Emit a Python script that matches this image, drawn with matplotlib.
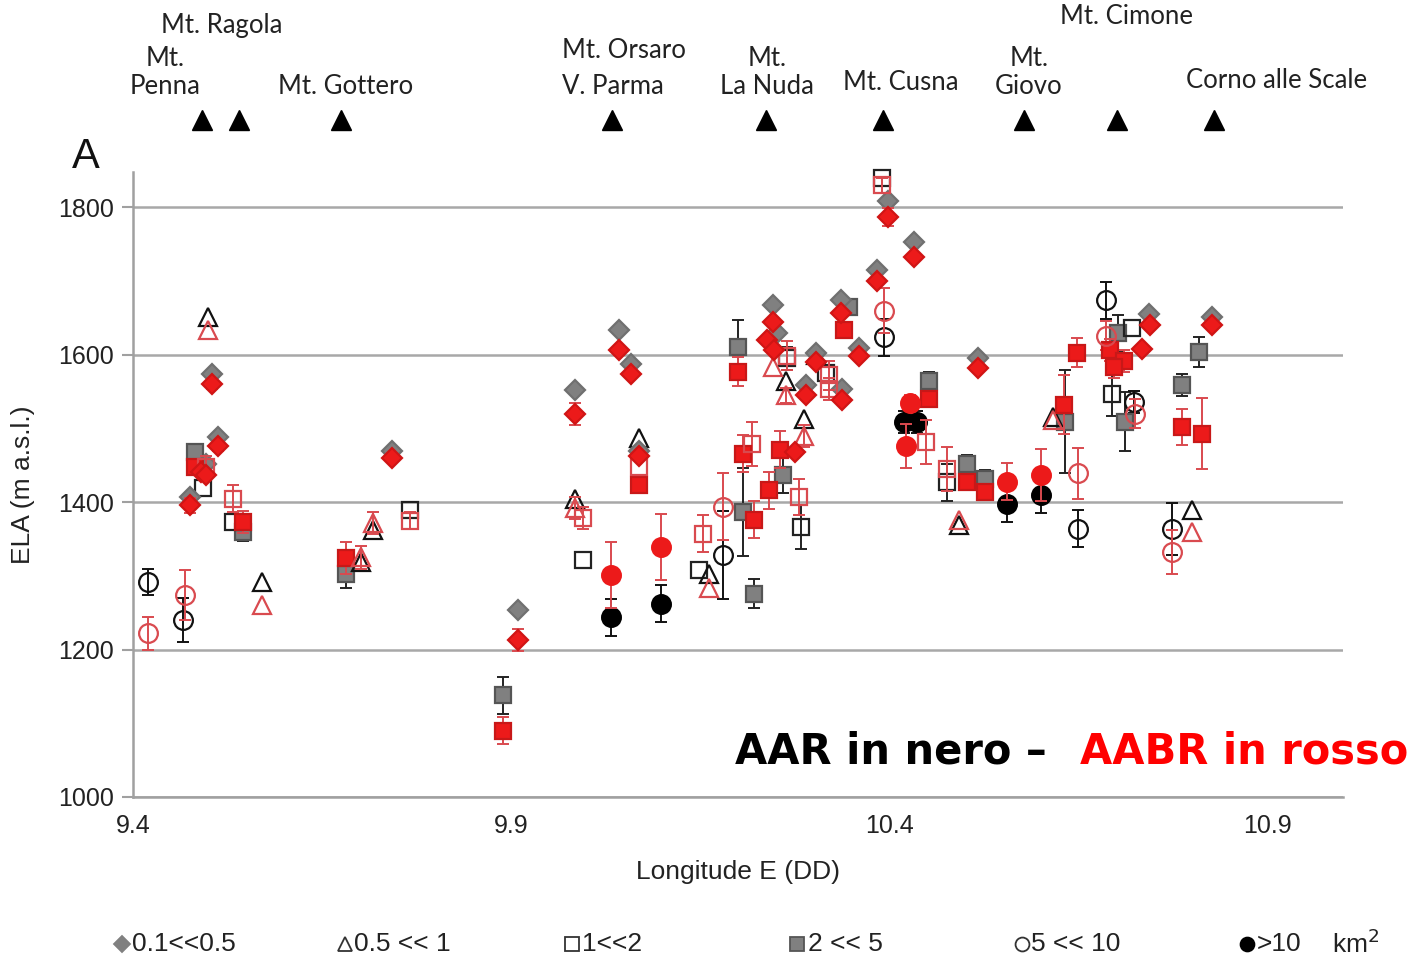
import matplotlib
matplotlib.use("Agg")
import matplotlib.pyplot as plt
import numpy as np
from matplotlib.lines import Line2D
from matplotlib.transforms import blended_transform_factory

W, H = 1414, 959

# ---------------- data (longitude E, ELA m a.s.l., error) ----------------
# 0.1 << 0.5 km2 (diamond)
aar_d_lon = [9.475, 9.497, 9.504, 9.513, 9.742, 9.909, 9.984, 10.043, 10.058, 10.069, 10.246, 10.252,
             10.290, 10.303, 10.336, 10.338, 10.360, 10.384, 10.398, 10.433, 10.518, 10.743, 10.827]
aar_d_ela = [1407, 1452, 1574, 1488, 1470, 1254, 1552, 1633, 1588, 1470, 1667, 1629,
             1559, 1602, 1674, 1554, 1609, 1715, 1809, 1753, 1595, 1656, 1651]
aar_d_err = [0] * 23

aabr_d_lon = [9.475, 9.490, 9.497, 9.504, 9.513, 9.742, 9.909, 9.984, 10.043, 10.058, 10.069, 10.246,
              10.239, 10.248, 10.276, 10.290, 10.303, 10.336, 10.338, 10.360, 10.384, 10.398, 10.433,
              10.518, 10.734, 10.745, 10.827]
aabr_d_ela = [1396, 1441, 1437, 1560, 1476, 1460, 1213, 1520, 1606, 1574, 1462, 1644,
              1620, 1606, 1468, 1545, 1590, 1657, 1538, 1599, 1700, 1787, 1733,
              1582, 1608, 1640, 1641]
aabr_d_err = [10, 0, 0, 6, 6, 6, 15, 15, 6, 6, 0, 0,
              0, 0, 0, 0, 0, 0, 0, 0, 0, 12, 0,
              0, 0, 0, 0]

# 0.5 << 1 km2 (open triangle)
aar_t_lon = [9.499, 9.570, 9.702, 9.717, 9.984, 10.069, 10.162, 10.263, 10.287, 10.303, 10.492, 10.617, 10.800]
aar_t_ela = [1651, 1292, 1319, 1362, 1405, 1487, 1303, 1565, 1513, 1600, 1369, 1516, 1389]
aar_t_err = [0] * 13

aabr_t_lon = [9.499, 9.570, 9.702, 9.717, 9.984, 10.162, 10.246, 10.263, 10.287, 10.492, 10.617, 10.800]
aabr_t_ela = [1633, 1260, 1325, 1372, 1392, 1283, 1583, 1545, 1490, 1376, 1512, 1360]
aabr_t_err = [0, 0, 15, 15, 15, 0, 0, 10, 15, 0, 0, 0]

# 1 << 2 km2 (open square)
aar_s_lon = [9.493, 9.532, 9.766, 9.995, 10.149, 10.265, 10.283, 10.316, 10.391, 10.477, 10.694, 10.721]
aar_s_ela = [1419, 1373, 1389, 1321, 1308, 1595, 1366, 1575, 1840, 1427, 1547, 1637]
aar_s_err = [0, 0, 0, 0, 0, 15, 30, 0, 0, 25, 30, 0]

aabr_s_lon = [9.497, 9.532, 9.766, 9.995, 10.069, 10.154, 10.219, 10.265, 10.281, 10.320, 10.320,
              10.391, 10.448, 10.477]
aabr_s_ela = [1448, 1405, 1375, 1378, 1448, 1357, 1479, 1599, 1407, 1572, 1554, 1830, 1482, 1445]
aabr_s_err = [15, 18, 12, 15, 0, 25, 30, 20, 25, 20, 15, 10, 30, 30]

# 2 << 5 km2 (filled square)
aar_q_lon = [9.482, 9.546, 9.682, 9.889, 10.200, 10.206, 10.221, 10.259, 10.347, 10.452, 10.503,
             10.527, 10.633, 10.703, 10.712, 10.787, 10.809]
aar_q_ela = [1468, 1360, 1303, 1138, 1611, 1387, 1276, 1437, 1665, 1565, 1452, 1432, 1509,
             1629, 1509, 1559, 1604]
aar_q_err = [0, 12, 20, 25, 36, 60, 20, 25, 0, 12, 12, 12, 70, 25, 40, 15, 20]

aabr_q_lon = [9.482, 9.546, 9.682, 9.889, 10.069, 10.200, 10.206, 10.221, 10.241, 10.256, 10.340,
              10.452, 10.503, 10.527, 10.631, 10.648, 10.692, 10.710, 10.697, 10.787, 10.814]
aabr_q_ela = [1448, 1373, 1324, 1090, 1423, 1577, 1466, 1376, 1416, 1471, 1633, 1540, 1428,
              1414, 1532, 1603, 1606, 1592, 1583, 1502, 1493]
aabr_q_err = [10, 15, 22, 18, 10, 20, 25, 25, 25, 25, 10, 10, 10, 10, 40, 20, 15, 15, 15, 25, 48]

# 5 << 10 km2 (open circle)
aar_o_lon = [9.420, 9.466, 10.180, 10.393, 10.650, 10.686, 10.723, 10.774]
aar_o_ela = [1292, 1240, 1328, 1624, 1364, 1674, 1536, 1364]
aar_o_err = [18, 30, 60, 25, 25, 25, 15, 35]

aabr_o_lon = [9.420, 9.469, 10.180, 10.393, 10.650, 10.686, 10.725, 10.774]
aabr_o_ela = [1222, 1274, 1394, 1660, 1439, 1626, 1520, 1332]
aabr_o_err = [22, 34, 45, 30, 35, 20, 20, 30]

# > 10 km2 (filled circle)
aar_c_lon = [10.032, 10.098, 10.419, 10.437, 10.556, 10.600]
aar_c_ela = [1244, 1262, 1509, 1509, 1398, 1410]
aar_c_err = [25, 25, 15, 15, 25, 25]

aabr_c_lon = [10.032, 10.098, 10.422, 10.428, 10.556, 10.600]
aabr_c_ela = [1301, 1339, 1476, 1535, 1428, 1437]
aabr_c_err = [45, 45, 30, 10, 25, 35]

# peaks
peak_lon = [9.4915, 9.5404, 9.6756, 10.0329, 10.2376, 10.3921, 10.5778, 10.7011, 10.8292]

x_ticks = [9.4, 9.9, 10.4, 10.9]
x_ticklabels = ["9.4", "9.9", "10.4", "10.9"]
y_ticks = [1000, 1200, 1400, 1600, 1800]

legend_labels = ["0.1<<0.5", "0.5 << 1", "1<<2", "2 << 5", "5 << 10", ">10"]

# ---------------- figure ----------------
plt.rcParams['font.family'] = ['Liberation Sans', 'DejaVu Sans']
fig = plt.figure(figsize=(W / 100, H / 100), dpi=100)
ax = fig.add_axes([133 / W, 1 - 797 / H, (1343 - 133) / W, (797 - 172) / H])

RED = "#ec1a1a"
RED_OPEN = "#d94a4f"
GRAY = "#808080"

def series(lon, ela, err, marker, face, edge, ecolor, ms, z):
    lon = np.asarray(lon, float)
    ela = np.asarray(ela, float)
    err = np.asarray(err, float)
    m = err > 0
    if m.any():
        ax.errorbar(lon[m], ela[m], yerr=err[m], fmt='none', ecolor=ecolor,
                    elinewidth=1.4, capsize=4.5, capthick=1.4, zorder=z - 0.5)
    ax.plot(lon, ela, linestyle='none', marker=marker, ms=ms, mfc=face, mec=edge,
            mew=1.6, zorder=z, clip_on=False)

# AAR (black / gray)
series(aar_q_lon, aar_q_ela, aar_q_err, 's', GRAY, "#555555", "#222222", 12, 3)
series(aar_s_lon, aar_s_ela, aar_s_err, 's', 'none', "#222222", "#222222", 12, 3)
series(aar_o_lon, aar_o_ela, aar_o_err, 'o', 'none', "#111111", "#111111", 13.5, 3)
series(aar_c_lon, aar_c_ela, aar_c_err, 'o', "black", "black", "#111111", 13.5, 3)
series(aar_t_lon, aar_t_ela, aar_t_err, '^', 'none', "#111111", "#111111", 12.5, 3)
series(aar_d_lon, aar_d_ela, aar_d_err, 'D', GRAY, "#707070", "#333333", 10.5, 3)

# AABR (red)
series(aabr_q_lon, aabr_q_ela, aabr_q_err, 's', RED, "#c81818", RED_OPEN, 12, 4)
series(aabr_s_lon, aabr_s_ela, aabr_s_err, 's', 'none', RED_OPEN, RED_OPEN, 12, 4)
series(aabr_o_lon, aabr_o_ela, aabr_o_err, 'o', 'none', RED_OPEN, RED_OPEN, 13.5, 4)
series(aabr_c_lon, aabr_c_ela, aabr_c_err, 'o', RED, RED, RED_OPEN, 13.5, 4)
series(aabr_t_lon, aabr_t_ela, aabr_t_err, '^', 'none', RED_OPEN, RED_OPEN, 12.5, 4)
series(aabr_d_lon, aabr_d_ela, aabr_d_err, 'D', RED, "#d01515", RED_OPEN, 10.5, 4)

ax.set_xlim(9.4, 11.0)
ax.set_ylim(1000, 1848)
ax.set_xticks(x_ticks)
ax.set_xticklabels(x_ticklabels)
ax.set_yticks(y_ticks)
ax.tick_params(axis='x', length=0, labelsize=18, pad=12, colors="#222222")
ax.tick_params(axis='y', length=8, width=1.5, color="#a0a0a0", labelsize=18, pad=6,
               labelcolor="#222222")
ax.grid(axis='y', color="#a8a8a8", linewidth=1.8, zorder=0)
ax.set_axisbelow(True)
for s in ['top', 'right']:
    ax.spines[s].set_visible(False)
for s in ['left', 'bottom']:
    ax.spines[s].set_color("#a0a0a0")
    ax.spines[s].set_linewidth(1.8)

ax.set_xlabel("Longitude E (DD)", fontsize=19, color="#222222", labelpad=16)
ax.set_ylabel("ELA (m a.s.l.)", fontsize=19, color="#222222", labelpad=16)

# peak triangles above the plot
tr = blended_transform_factory(ax.transData, fig.transFigure)
ax.plot(peak_lon, [1 - 120 / H] * len(peak_lon), linestyle='none', marker='^', ms=14,
        color='black', transform=tr, clip_on=False)

# peak labels (pixel layout positions)
lab_font = dict(family=['Lato', 'DejaVu Sans'], fontsize=18.5, color="#222222",
                ha='center', va='center')
labels = [("Mt. Ragola", 222, 25), ("Mt.", 165, 58), ("Penna", 165, 87),
          ("Mt. Gottero", 346, 87), ("Mt. Orsaro", 624, 51), ("V. Parma", 613, 87),
          ("Mt.", 767, 58), ("La Nuda", 767, 87), ("Mt. Cusna", 901, 82),
          ("Mt.", 1029, 58), ("Giovo", 1029, 87), ("Mt. Cimone", 1126, 17),
          ("Corno alle Scale", 1277, 81)]
for s, x, y in labels:
    fig.text(x / W, 1 - y / H, s, **lab_font)

fig.text(86 / W, 1 - 157 / H, "A", fontsize=30, ha='center', va='center', color="#111111")

# method annotation
fig.text(735 / W, 1 - 752 / H, "AAR in nero \u2013", fontsize=30, fontweight='bold',
         color='black', ha='left', va='center', family=['DejaVu Sans'])
fig.text(1080 / W, 1 - 752 / H, "AABR in rosso", fontsize=30, fontweight='bold',
         color='red', ha='left', va='center', family=['DejaVu Sans'])

# bottom legend (manual layout)
leg_y = 1 - 944 / H
leg_items = [('D', GRAY, GRAY, 122, 132), ('^', 'none', '#333333', 345, 354),
             ('s', 'none', '#333333', 572, 582), ('s', GRAY, '#555555', 797, 808),
             ('o', 'none', '#333333', 1022, 1031), ('o', 'black', 'black', 1247, 1257)]
for (mk, fc, ec, mx, tx), lab in zip(leg_items, legend_labels):
    fig.add_artist(Line2D([mx / W], [leg_y], marker=mk, ms=10 if mk != 'D' else 8,
                          mfc=fc, mec=ec, mew=1.3, linestyle='none',
                          transform=fig.transFigure))
    fig.text(tx / W, leg_y, lab, fontsize=19, ha='left', va='center', color="#222222")
fig.text(1332 / W, leg_y, "km$^2$", fontsize=19, ha='left', va='center', color="#222222")

fig.savefig("out.png", dpi=100)
